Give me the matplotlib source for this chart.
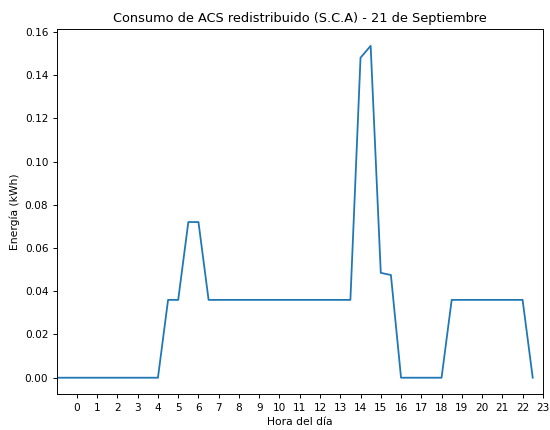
import matplotlib
matplotlib.use("Agg")
import matplotlib.pyplot as plt
import numpy as np

# Half-hour time steps (hours), starting at -1
horas = np.arange(-1, 23, 0.5)
energia = [
    0, 0,            # -1.0, -0.5
    0, 0, 0, 0, 0, 0, 0, 0,   # 0.0 - 3.5
    0, 0.036, 0.036, 0.072, 0.072, 0.036,   # 4.0 - 6.5
    0.036, 0.036, 0.036, 0.036, 0.036, 0.036, 0.036, 0.036,  # 7.0 - 10.5
    0.036, 0.036, 0.036, 0.036, 0.036, 0.036,  # 11.0 - 13.5
    0.148, 0.1535, 0.0485, 0.0475,  # 14.0 - 15.5
    0, 0, 0, 0, 0,  # 16.0 - 18.0
    0.036, 0.036, 0.036, 0.036, 0.036, 0.036, 0.036, 0.036,  # 18.5 - 22.0
    0,  # 22.5
]
tick_pos = list(range(0, 24))
tick_labels = [str(h) for h in tick_pos]

DPI = 86
fig = plt.figure(figsize=(550 / DPI, 430 / DPI), dpi=DPI)
ax = fig.add_subplot(111)
fig.subplots_adjust(left=0.103, right=0.987, bottom=0.083, top=0.932)
ax.plot(horas, energia, color="#1f77b4", linewidth=1.5)
ax.set_xlim(-1, 23)
ax.set_xticks(tick_pos)
ax.set_xticklabels(tick_labels)
ax.tick_params(labelsize=8.8)
ax.set_title("Consumo de ACS redistribuido (S.C.A) - 21 de Septiembre", fontsize=10.8)
ax.set_xlabel("Hora del día", fontsize=9)
ax.set_ylabel("Energía (kWh)", fontsize=9)
fig.savefig("out.png", dpi=DPI)
